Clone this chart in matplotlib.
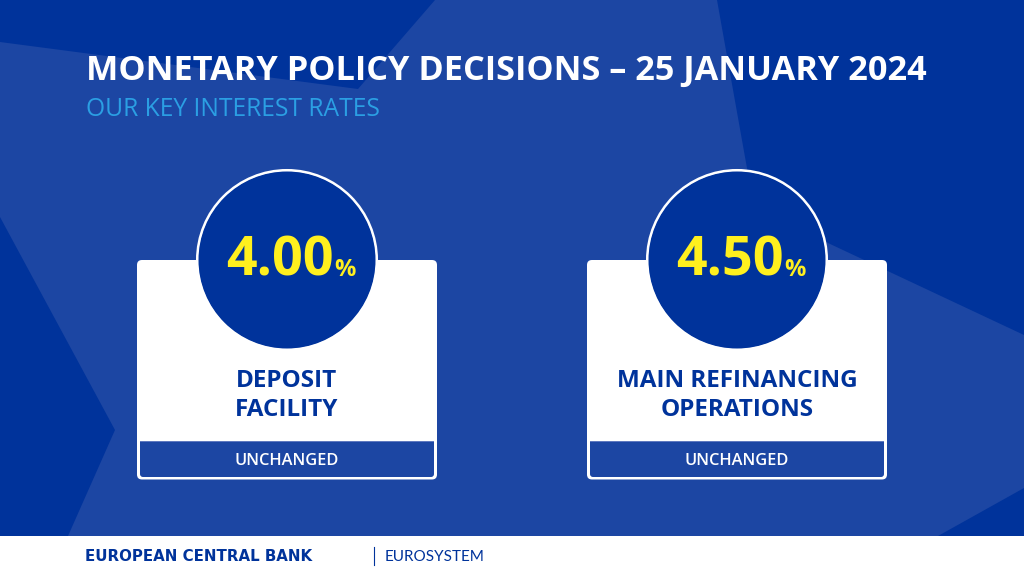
import matplotlib
matplotlib.use('Agg')
import matplotlib.pyplot as plt
from matplotlib.patches import Polygon, Circle, FancyBboxPatch, Rectangle

# chart values
title = 'MONETARY POLICY DECISIONS – 25 JANUARY 2024'
subtitle = 'OUR KEY INTEREST RATES'
rates = ['4.00', '4.50']
names = [['DEPOSIT', 'FACILITY'], ['MAIN REFINANCING', 'OPERATIONS']]
status = ['UNCHANGED', 'UNCHANGED']

DARK = '#00339b'
LIGHT = '#1c46a3'
YELLOW = '#fff01e'
FONT = 'Open Sans'

fig = plt.figure(figsize=(10.24, 5.76), dpi=100)
ax = fig.add_axes([0, 0, 1, 1])
ax.set_xlim(0, 1024)
ax.set_ylim(576, 0)
ax.axis('off')

# background star shards
ax.add_patch(Rectangle((0, 0), 1024, 536, color=LIGHT, lw=0))
shards = [
    [(0, 0), (435, 0), (358, 89), (0, 42)],
    [(717, 0), (1024, 0), (1024, 335), (828, 243), (750, 185)],
    [(0, 217), (115, 430), (68, 536), (0, 536)],
    [(938, 536), (1024, 488), (1024, 536)],
]
for s in shards:
    ax.add_patch(Polygon(s, closed=True, color=DARK, lw=0))

ax.text(86, 80, title, family=FONT, weight='bold', size=24.7, color='white')
ax.text(86, 116, subtitle, family=FONT, size=17.7, color='#2b9fe3')

# the two cards
for i, cx in enumerate([287, 737]):
    left = cx - 150
    ax.add_patch(FancyBboxPatch((left, 260), 300, 219.5, boxstyle='round,pad=0,rounding_size=5',
                                fc='white', ec='none', zorder=2))
    ax.add_patch(FancyBboxPatch((left + 3, 441), 294, 36, boxstyle='round,pad=0,rounding_size=3',
                                fc=LIGHT, ec='none', zorder=3))
    ax.add_patch(Rectangle((left + 3, 441), 294, 12, fc=LIGHT, ec='none', zorder=3))
    ax.add_patch(Rectangle((left + 3, 441), 294, 1, fc='#5f79bf', ec='none', zorder=3))
    ax.add_patch(Circle((cx, 260), 89.5, fc=DARK, ec='white', lw=2.2, zorder=4))
    ax.add_patch(Circle((cx, 260), 88.5, fc=DARK, ec='none', zorder=4))

    ax.text(cx - 61, 276, rates[i], family=FONT, weight='bold', size=38.7, color=YELLOW, zorder=5)
    ax.text(cx + 47, 276, '%', family=FONT, weight='bold', size=17, color=YELLOW, zorder=5)
    ax.text(cx, 387, names[i][0], family=FONT, weight='bold', size=17.5, color=DARK, ha='center', zorder=5)
    ax.text(cx, 416, names[i][1], family=FONT, weight='bold', size=17.5, color=DARK, ha='center', zorder=5)
    ax.text(cx, 465, status[i], family=FONT, weight='semibold', size=11.8, color='white', ha='center', zorder=5)

# footer
ax.text(85, 561, 'EUROPEAN CENTRAL BANK', family='DejaVu Sans', weight='bold', size=10.8, color=DARK)
ax.plot([373.5, 373.5], [547, 565], color=DARK, lw=0.8)
ax.text(385, 561, 'EUROSYSTEM', family='Lato', size=11, color=DARK)

fig.savefig('out.png', dpi=100)
